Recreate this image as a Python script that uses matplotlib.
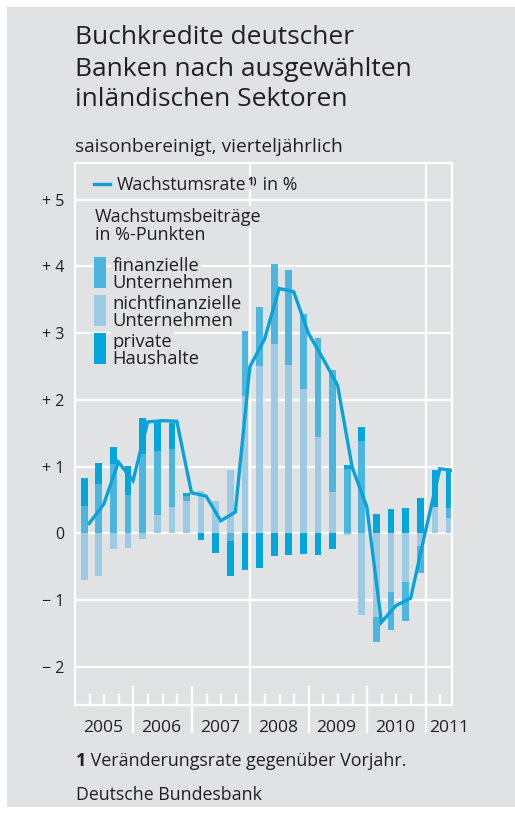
import matplotlib
matplotlib.use('Agg')
import matplotlib.pyplot as plt
from matplotlib.patches import Rectangle
from matplotlib.lines import Line2D
import numpy as np

plt.rcParams['font.family'] = ['Open Sans', 'DejaVu Sans']

# ---------------- data ----------------
years = ['2005', '2006', '2007', '2008', '2009', '2010', '2011']
# quarterly contributions (percentage points), 2005Q1 .. 2011Q2
nichtfin = [-0.69, -0.63, -0.24, -0.22, -0.08, 0.27, 0.39, 0.49, 0.63, 0.48, 0.95, 2.06, 2.51,
            2.84, 2.53, 2.16, 1.44, 0.62, -0.03, -1.22, -1.25, -0.88, -0.73, -0.19, 0.40, 0.23]
finanz = [0.41, 0.74, 1.04, 0.58, 1.19, 0.96, 0.87, 0.07, 0.0, 0.0, -0.11, 0.97, 0.88,
          1.19, 1.41, 1.13, 1.49, 1.83, 0.97, 1.39, -0.37, -0.56, -0.58, -0.40, 0.0, 0.15]
private = [0.42, 0.32, 0.25, 0.43, 0.54, 0.46, 0.40, 0.05, -0.10, -0.30, -0.52, -0.55, -0.52,
           -0.34, -0.33, -0.31, -0.32, -0.24, 0.06, 0.20, 0.29, 0.37, 0.38, 0.53, 0.55, 0.58]
rate = [0.15, 0.44, 1.07, 0.79, 1.67, 1.69, 1.68, 0.61, 0.56, 0.19, 0.32, 2.50, 2.91,
        3.67, 3.62, 3.00, 2.62, 2.22, 0.99, 0.40, -1.33, -1.08, -0.97, 0.02, 0.97, 0.94]
yticks = [-2, -1, 0, 1, 2, 3, 4, 5]
ytick_labels = ['\u2212 2', '\u2212 1', '0', '+ 1', '+ 2', '+ 3', '+ 4', '+ 5']

# ---------------- style ----------------
W, H = 515, 817
GRAY = '#e1e2e4'
TXT = '#231f20'
C_NF = '#9ccbe3'
C_FI = '#4db6de'
C_PH = '#00a6dc'
C_LINE = '#0aa2d9'


def fx(x):
    return x / W


def fy(y):
    return 1 - y / H


fig = plt.figure(figsize=(W / 100, H / 100), dpi=100)
fig.patch.set_facecolor('white')
fig.add_artist(Rectangle((fx(7), fy(807)), (W - 7) / W, 800 / H, transform=fig.transFigure,
                         facecolor=GRAY, edgecolor='none', zorder=0))

ax = fig.add_axes([fx(75), fy(705), 377 / W, 542 / H])
ax.set_facecolor(GRAY)
ax.set_zorder(1)
for s in ax.spines.values():
    s.set_color('white')
    s.set_linewidth(1.6)

n = len(rate)
ax.set_xlim(0, 25.8)
ax.set_ylim(-2.57, 5.55)

for v in yticks:
    ax.axhline(v, color='white', lw=1.6, zorder=1)
for b in [12, 24]:
    ax.axvline(b, color='white', lw=1.6, zorder=1)

# bars stacked
xb = np.arange(n) + 0.63
pos_bottom = np.zeros(n)
neg_bottom = np.zeros(n)
for vals, col in [(nichtfin, C_NF), (finanz, C_FI), (private, C_PH)]:
    vals = np.array(vals)
    pos = np.where(vals > 0, vals, 0)
    neg = np.where(vals < 0, vals, 0)
    ax.bar(xb, pos, bottom=pos_bottom, width=0.46, color=col, zorder=2, linewidth=0)
    ax.bar(xb, neg, bottom=neg_bottom, width=0.46, color=col, zorder=2, linewidth=0)
    pos_bottom += pos
    neg_bottom += neg

xl = np.arange(n) + 0.97
ax.plot(xl, rate, color=C_LINE, lw=2.4, zorder=4, solid_joinstyle='miter')

# ticks along the bottom
tr = ax.get_xaxis_transform()
for q in range(1, 26):
    if q % 4 == 0:
        ax.plot([q, q], [-27 / 542, 18 / 542], transform=tr, color='white', lw=1.6,
                clip_on=False, zorder=3)
    else:
        ax.plot([q, q], [0, 10 / 542], transform=tr, color='white', lw=1.6,
                clip_on=False, zorder=3)

ax.set_xticks([])
ax.set_yticks(yticks)
ax.set_yticklabels(ytick_labels, fontsize=11.5, color=TXT)
ax.tick_params(axis='y', length=0, pad=8)

# year labels
for i, yl in enumerate(years[:-1]):
    ax.text(4 * i + 2 - 0.1, -27 / 542, yl, transform=tr, ha='center', va='baseline',
            fontsize=12.6, color=TXT)
ax.text(24.25, -27 / 542, years[-1], transform=tr, ha='left', va='baseline',
        fontsize=12.6, color=TXT)

# ---------------- titles ----------------
for txt, yb in [('Buchkredite deutscher', 44.5), ('Banken nach ausgewählten', 75.5),
                ('inländischen Sektoren', 106.5)]:
    fig.text(fx(75), fy(yb), txt, fontsize=19, color=TXT, va='baseline', ha='left')
fig.text(fx(75), fy(152), 'saisonbereinigt, vierteljährlich', fontsize=13.8, color=TXT,
         va='baseline', ha='left')

# ---------------- legend ----------------
bb = dict(boxstyle='square,pad=0.1', facecolor=GRAY, edgecolor='none')
fig.canvas.draw()
renderer = fig.canvas.get_renderer()

fig.add_artist(Line2D([fx(94), fx(110)], [fy(183.5), fy(183.5)], transform=fig.transFigure,
                      color=C_LINE, lw=2.4, zorder=5))
t1 = fig.text(fx(117), fy(190), 'Wachstumsrate', fontsize=12.8, color=TXT, va='baseline',
              bbox=bb, zorder=4)
e1 = t1.get_window_extent(renderer)
t2 = fig.text(fx(e1.x1 + 1), fy(185.5), '1)', fontsize=7.5, fontweight='bold', color=TXT,
              va='baseline', bbox=bb, zorder=4)
e2 = t2.get_window_extent(renderer)
fig.text(fx(e2.x1 + 0.5), fy(190), ' in %', fontsize=12.8, color=TXT, va='baseline', bbox=bb,
         zorder=4)

fig.text(fx(95), fy(222), 'Wachstumsbeiträge', fontsize=13, color=TXT, va='baseline',
         bbox=bb, zorder=4)
fig.text(fx(95), fy(240), 'in %-Punkten', fontsize=13, color=TXT, va='baseline', bbox=bb,
         zorder=4)

entries = [(C_FI, 'finanzielle', 'Unternehmen', 257),
           (C_NF, 'nichtfinanzielle', 'Unternehmen', 295),
           (C_PH, 'private', 'Haushalte', 333)]
for col, l1, l2, ytop in entries:
    fig.add_artist(Rectangle((fx(94), fy(ytop + 31)), 11.5 / W, 31 / H,
                             transform=fig.transFigure, facecolor=col, edgecolor='none',
                             zorder=5))
    fig.text(fx(112.5), fy(ytop + 14), l1, fontsize=13.2, color=TXT, va='baseline', bbox=bb,
             zorder=4)
    fig.text(fx(112.5), fy(ytop + 31.5), l2, fontsize=13.2, color=TXT, va='baseline', bbox=bb,
             zorder=4)

# ---------------- footnotes ----------------
f1 = fig.text(fx(76), fy(766), '1', fontsize=12.9, fontweight='bold', color=TXT, va='baseline')
ef = f1.get_window_extent(renderer)
fig.text(fx(ef.x1), fy(766), ' Veränderungsrate gegenüber Vorjahr.', fontsize=12.9, color=TXT,
         va='baseline')
fig.text(fx(76), fy(800), 'Deutsche Bundesbank', fontsize=12.8, color=TXT, va='baseline')

fig.savefig('out.png', dpi=100, facecolor=fig.get_facecolor())
